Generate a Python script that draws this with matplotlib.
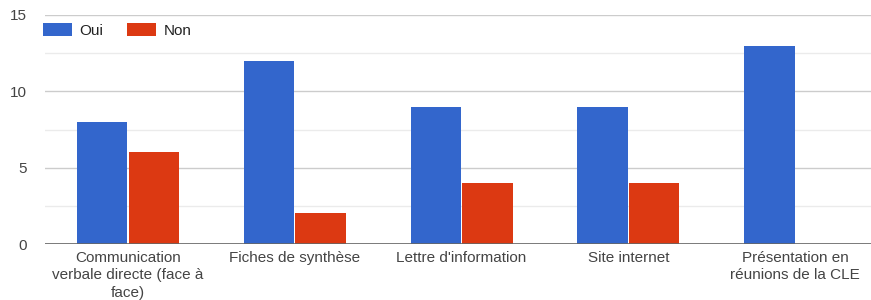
import matplotlib.pyplot as plt
import numpy as np

plt.rcParams['font.family'] = ['Liberation Sans', 'DejaVu Sans']

categories = ["Communication\nverbale directe (face à\nface)", "Fiches de synthèse",
              "Lettre d'information", "Site internet",
              "Présentation en\nréunions de la CLE"]
oui = [8, 12, 9, 9, 13]
non = [6, 2, 4, 4, 0]
yticks = [0, 5, 10, 15]

blue = '#3366cc'
red = '#dc3912'

fig = plt.figure(figsize=(8.71, 3.0), dpi=100)
ax = fig.add_axes([44.6 / 871, 56 / 300, 834 / 871, 229 / 300])

x = np.arange(len(categories))
w = 0.303
ax.bar(x - w / 2 - 0.003, oui, w, color=blue, label='Oui', zorder=3)
ax.bar(x + w / 2 + 0.003, non, w, color=red, label='Non', zorder=3)

ax.set_xlim(-0.5, 4.5)
ax.set_ylim(0, 15)
ax.set_yticks(yticks)
ax.set_yticks([2.5, 7.5, 12.5], minor=True)
ax.grid(axis='y', which='major', color='#cccccc', lw=1, zorder=0)
ax.grid(axis='y', which='minor', color='#ebebeb', lw=1, zorder=0)
ax.axhline(0, color='#666666', lw=1.2, zorder=4)

for s in ax.spines.values():
    s.set_visible(False)
ax.tick_params(axis='both', which='both', length=0, labelsize=11, colors='#444444')
ax.tick_params(axis='y', pad=13)
ax.tick_params(axis='x', pad=5)
ax.set_xticks(x)
ax.set_xticklabels(categories, linespacing=1.3)

leg = ax.legend(loc='upper left', bbox_to_anchor=(-0.009, 0.99), ncol=2, frameon=False,
                fontsize=11, handlelength=1.9, handleheight=0.85, columnspacing=1.6,
                handletextpad=0.45, labelcolor='#222222', borderaxespad=0)

fig.savefig('out.png', dpi=100)
